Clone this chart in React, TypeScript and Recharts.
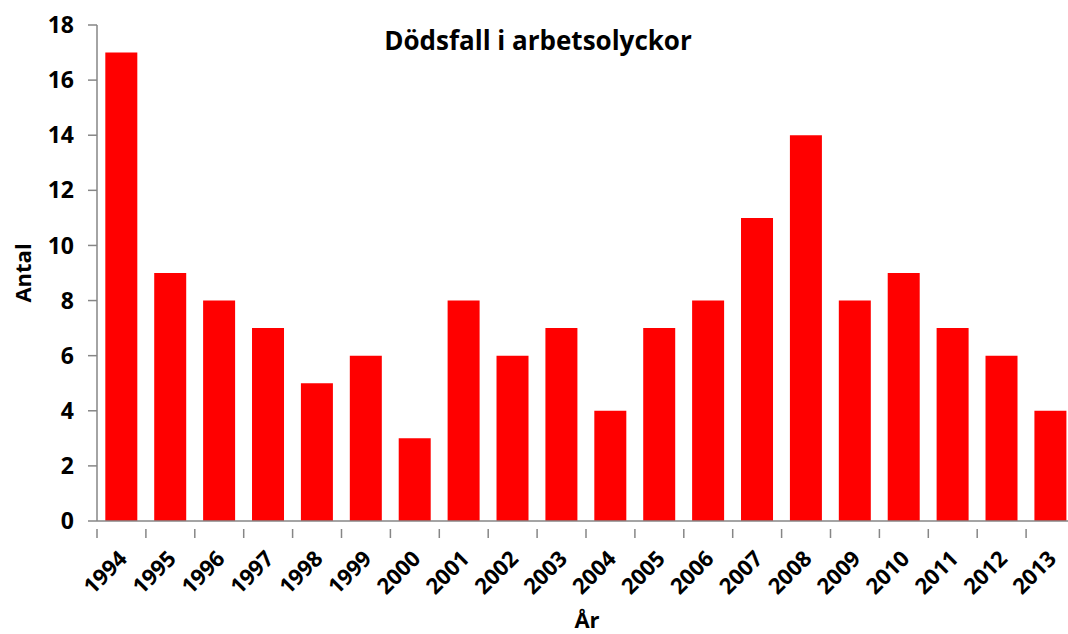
import { Bar, BarChart, XAxis, YAxis } from "recharts";

const years = [
  "1994", "1995", "1996", "1997", "1998", "1999", "2000", "2001", "2002", "2003",
  "2004", "2005", "2006", "2007", "2008", "2009", "2010", "2011", "2012", "2013",
];
const deaths = [17, 9, 8, 7, 5, 6, 3, 8, 6, 7, 4, 7, 8, 11, 14, 8, 9, 7, 6, 4];
const yTicks = [0, 2, 4, 6, 8, 10, 12, 14, 16, 18];

const data = years.map((year, i) => ({ year, antal: deaths[i] }));

const FONT = "'Open Sans', sans-serif";
const AXIS = "#868686";
const W = 1080;
const H = 634;
const M = { top: 25, right: 5, left: 0, bottom: 0 };
const Y_W = 97;
const BAND = (W - Y_W - M.right) / years.length;

function XTick(props: any) {
  const { x, y, payload } = props;
  const bx = x - BAND / 2;
  const tx = x + 7;
  const ty = y + 31;
  return (
    <g>
      <line x1={bx} y1={y} x2={bx} y2={y + 9} stroke={AXIS} strokeWidth={1.5} />
      <text
        x={tx}
        y={ty}
        textAnchor="end"
        transform={`rotate(-45 ${tx} ${ty})`}
        fontFamily={FONT}
        fontWeight="bold"
        fontSize={22}
        fill="#000"
      >
        {payload.value}
      </text>
    </g>
  );
}

function YLabel(props: any) {
  const { viewBox } = props;
  const cx = 22;
  const cy = viewBox.y + viewBox.height / 2;
  return (
    <text
      x={cx}
      y={cy}
      textAnchor="middle"
      dominantBaseline="central"
      transform={`rotate(-90 ${cx} ${cy})`}
      fontFamily={FONT}
      fontWeight="bold"
      fontSize={22}
      fill="#000"
    >
      Antal
    </text>
  );
}

function XLabel() {
  return (
    <text
      x={587}
      y={H - 15}
      textAnchor="middle"
      dominantBaseline="central"
      fontFamily={FONT}
      fontWeight="bold"
      fontSize={22}
      fill="#000"
    >
      År
    </text>
  );
}

export default function App() {
  return (
    <div style={{ position: "absolute", left: 0, top: 0, width: 1068, height: H, overflow: "hidden", background: "#fff" }}>
      <BarChart width={W} height={H} data={data} margin={M} barCategoryGap="17%">
        <XAxis
          dataKey="year"
          interval={0}
          height={H - M.top - 496}
          tickLine={false}
          axisLine={{ stroke: AXIS, strokeWidth: 1.5 }}
          tick={<XTick />}
          label={<XLabel />}
        />
        <YAxis
          domain={[0, 18]}
          ticks={yTicks}
          interval={0}
          width={Y_W}
          tickSize={9}
          tickMargin={14}
          axisLine={{ stroke: AXIS, strokeWidth: 1.5 }}
          tickLine={{ stroke: AXIS, strokeWidth: 1.5 }}
          tick={{ fontFamily: FONT, fontWeight: "bold", fontSize: 23, fill: "#000" }}
          label={<YLabel />}
        />
        <Bar dataKey="antal" fill="#ff0000" isAnimationActive={false} />
      </BarChart>
      <div
        style={{
          position: "absolute",
          left: 538,
          top: 40,
          transform: "translate(-50%, -50%)",
          fontFamily: FONT,
          fontWeight: "bold",
          fontSize: 26,
          whiteSpace: "nowrap",
          color: "#000",
        }}
      >
        Dödsfall i arbetsolyckor
      </div>
    </div>
  );
}
